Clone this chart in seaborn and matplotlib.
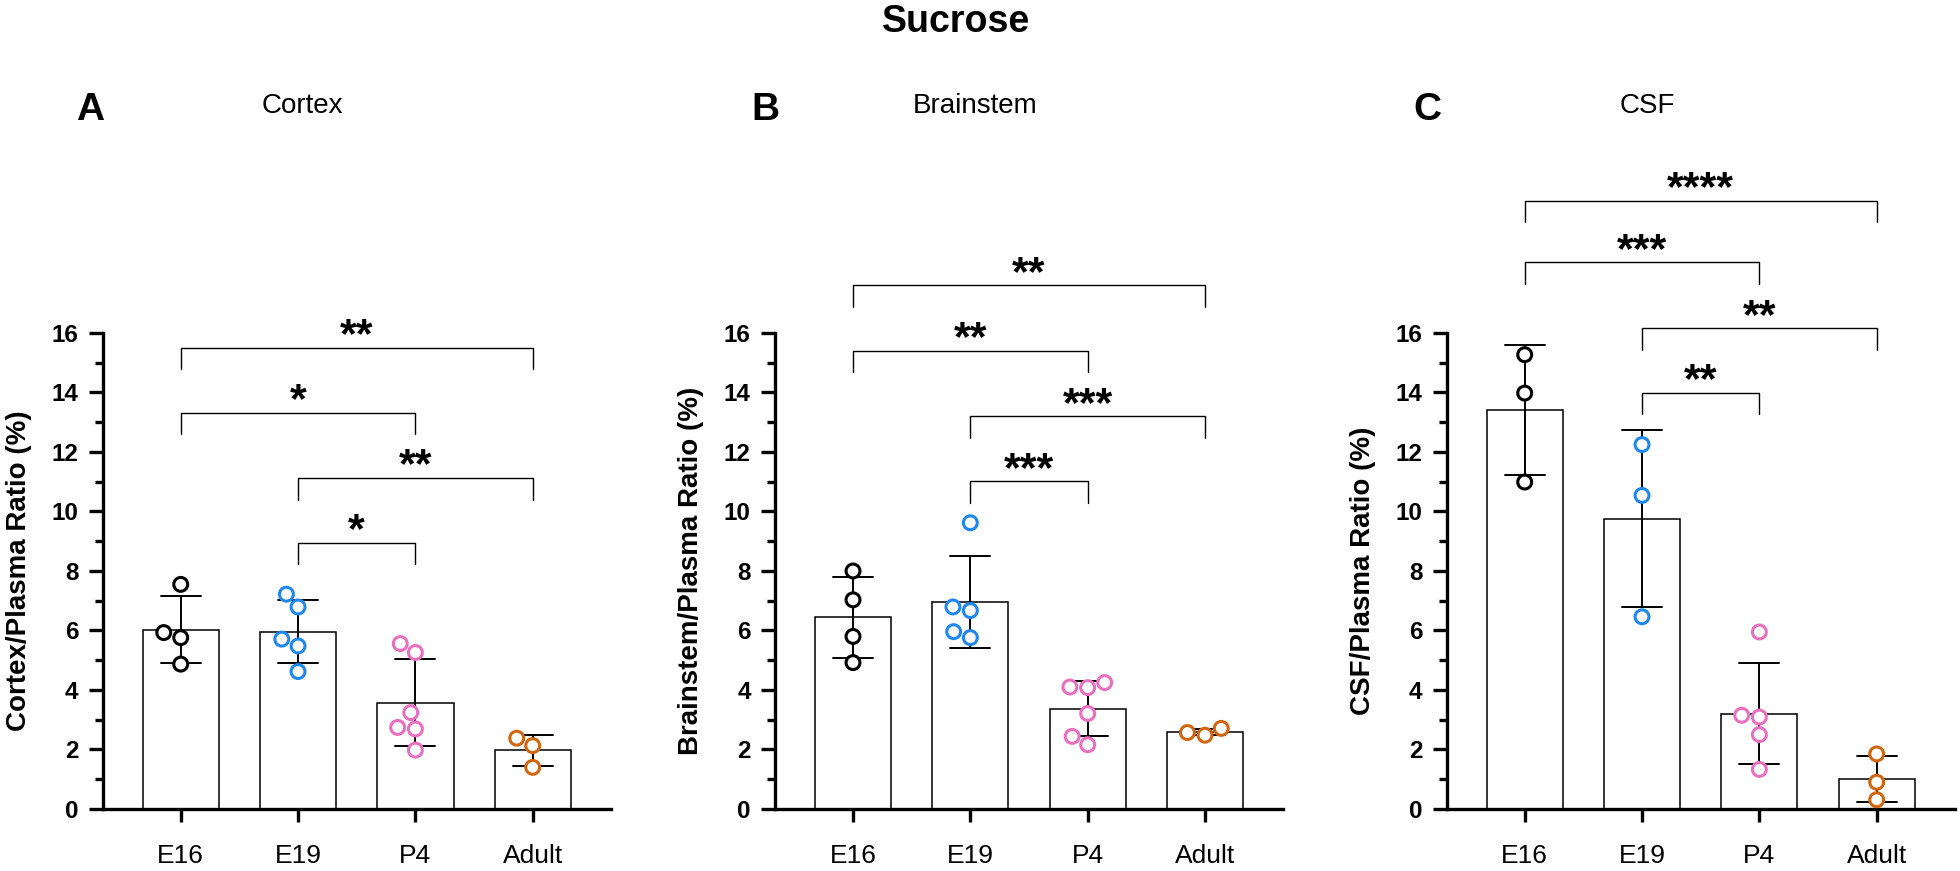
import numpy as np
import pandas as pd
import seaborn as sns
import matplotlib.pyplot as plt
from matplotlib.ticker import MultipleLocator

# groups and point colours
groups = ["E16", "E19", "P4", "Adult"]
colors = ["#000000", "#1F88EE", "#EA6FC0", "#D2650F"]

# individual animals, tissue/plasma ratio (%)
cortex_e16 = [7.55, 5.93, 5.76, 4.87]
cortex_e19 = [7.22, 6.79, 5.71, 5.48, 4.62]
cortex_p4 = [5.26, 5.56, 3.24, 2.74, 2.69, 1.98]
cortex_adult = [2.38, 2.13, 1.40]

brainstem_e16 = [8.00, 7.03, 5.80, 4.92]
brainstem_e19 = [9.62, 6.67, 6.79, 5.76, 5.96]
brainstem_p4 = [4.25, 4.08, 4.10, 3.21, 2.44, 2.16]
brainstem_adult = [2.48, 2.71, 2.57]

csf_e16 = [15.27, 13.98, 10.99]
csf_e19 = [12.25, 10.54, 6.46]
csf_p4 = [5.95, 3.09, 3.15, 2.50, 1.33]
csf_adult = [1.85, 0.90, 0.31]

# significance brackets: (group a, group b), bracket height, stars
pairs = [(0, 3), (0, 2), (1, 3), (1, 2)]
cortex_heights = [15.50, 13.31, 11.12, 8.94]
cortex_stars = ["**", "*", "**", "*"]
brainstem_heights = [17.60, 15.40, 13.20, 11.01]
brainstem_stars = ["**", "**", "***", "***"]
csf_heights = [20.45, 18.37, 16.16, 13.98]
csf_stars = ["****", "***", "**", "**"]

sns.set_theme(style="ticks")
plt.rcParams["font.family"] = ["Liberation Sans", "DejaVu Sans"]
plt.rcParams.update({"text.color": "black", "axes.labelcolor": "black",
                     "axes.edgecolor": "black", "xtick.color": "black",
                     "ytick.color": "black"})


def draw_panel(ax, vals, ylabel, heights, stars):
    df = pd.DataFrame({
        "group": np.repeat(groups, [len(v) for v in vals]),
        "value": np.concatenate(vals),
    })
    sns.barplot(data=df, x="group", y="value", order=groups, errorbar="sd",
                capsize=0.34, color="white", edgecolor="black", linewidth=1.1,
                width=0.65, err_kws={"color": "black", "linewidth": 1.4}, ax=ax)
    n = len(ax.collections)
    sns.swarmplot(data=df, x="group", y="value", order=groups, hue="group",
                  hue_order=groups, palette=colors, size=10, linewidth=2.2,
                  legend=False, zorder=3, ax=ax)
    # hollow circles
    for coll in ax.collections[n:]:
        fc = coll.get_facecolors()
        coll.set_edgecolors(fc)
        coll.set_facecolors("white")

    for (a, b), h, s in zip(pairs, heights, stars):
        ax.plot([a, a, b, b], [h - 0.72, h, h, h - 0.72], color="black",
                lw=1.0, clip_on=False)
        ax.text((a + b) / 2, h + 0.02, s, ha="center", va="baseline",
                fontsize=31, fontweight="bold")

    ax.set_xlim(-0.665, 3.665)
    ax.set_ylim(0, 16)
    ax.set_yticks(range(0, 17, 2), labels=[str(t) for t in range(0, 17, 2)],
                  fontweight="bold")
    ax.yaxis.set_minor_locator(MultipleLocator(1))
    sns.despine(ax=ax)
    for sp in ["left", "bottom"]:
        ax.spines[sp].set_linewidth(2.4)
    ax.tick_params(axis="y", which="major", length=10, width=2.4,
                   labelsize=17.5, pad=7.5)
    ax.tick_params(axis="y", which="minor", length=5.5, width=2.4)
    ax.tick_params(axis="x", length=9.5, width=2.4, labelsize=19, pad=16)
    ax.set_xlabel("")
    ax.set_ylabel(ylabel, fontsize=20, fontweight="bold")
    ax.yaxis.set_label_coords(-0.14, 0.5)


fig = plt.figure(figsize=(19.6, 8.71), dpi=100)
bottom, height, width = 0.0712, 0.5465, 0.2592
axA = fig.add_axes([0.0524, bottom, width, height])
axB = fig.add_axes([0.3954, bottom, width, height])
axC = fig.add_axes([0.7381, bottom, width, height])

draw_panel(axA, [cortex_e16, cortex_e19, cortex_p4, cortex_adult],
           "Cortex/Plasma Ratio (%)", cortex_heights, cortex_stars)
draw_panel(axB, [brainstem_e16, brainstem_e19, brainstem_p4, brainstem_adult],
           "Brainstem/Plasma Ratio (%)", brainstem_heights, brainstem_stars)
draw_panel(axC, [csf_e16, csf_e19, csf_p4, csf_adult],
           "CSF/Plasma Ratio (%)", csf_heights, csf_stars)

fig.text(956 / 1960, 1 - 32 / 871, "Sucrose", ha="center", va="baseline",
         fontsize=27, fontweight="bold")
for x, letter in [(90, "A"), (765, "B"), (1427, "C")]:
    fig.text(x / 1960, 1 - 120 / 871, letter, ha="center", va="baseline",
             fontsize=28, fontweight="bold")
for x, name in [(302, "Cortex"), (975, "Brainstem"), (1647, "CSF")]:
    fig.text(x / 1960, 1 - 113 / 871, name, ha="center", va="baseline",
             fontsize=20)

fig.savefig("out.png", dpi=100)
